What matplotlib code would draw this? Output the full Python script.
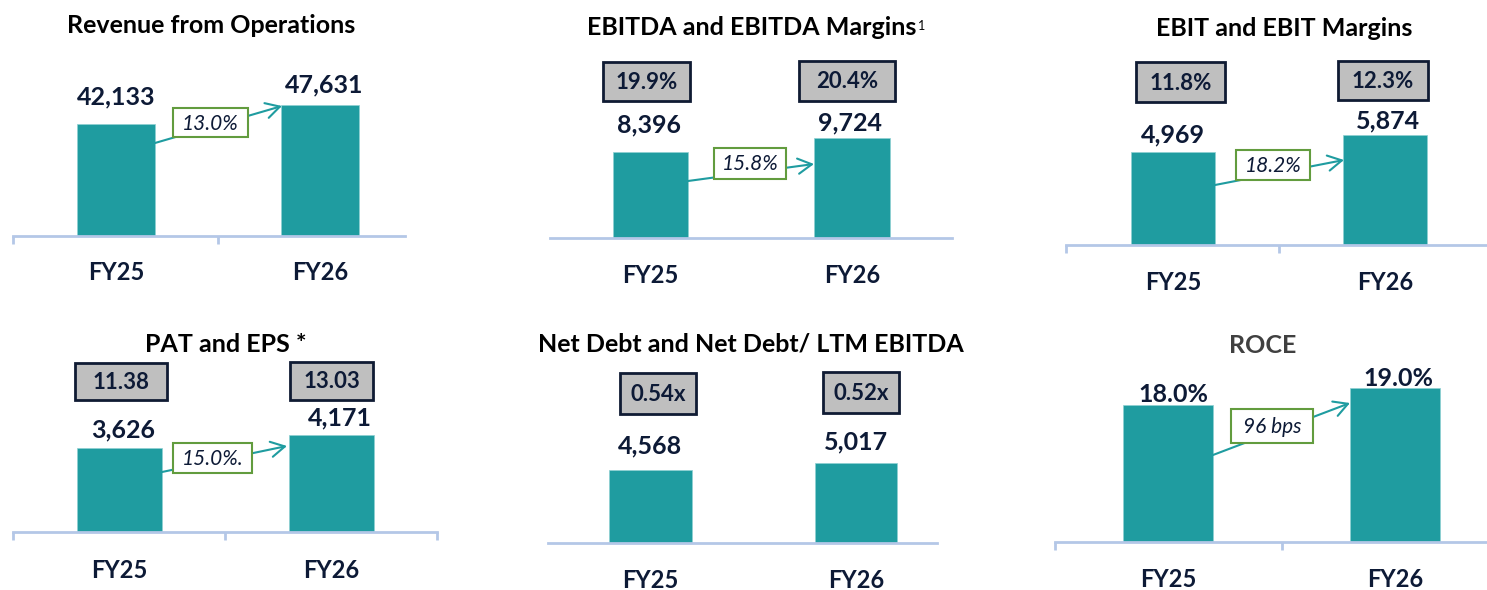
import matplotlib
matplotlib.use("Agg")
import matplotlib.pyplot as plt
from matplotlib.patches import Rectangle

W, H = 1487, 590
plt.rcParams['font.family'] = ['Lato', 'DejaVu Sans']

# data
years = ['FY25', 'FY26']
revenue = [42133, 47631]
ebitda = [8396, 9724]
ebit = [4969, 5874]
pat = [3626, 4171]
net_debt = [4568, 5017]
roce = [18.0, 19.0]
ebitda_margin = ['19.9%', '20.4%']
ebit_margin = ['11.8%', '12.3%']
eps = ['11.38', '13.03']
nd_ebitda = ['0.54x', '0.52x']

TEAL = '#1f9ca0'
NAVY = '#0d1a36'
AXIS = '#b4c7e7'
GREEN = '#629c3e'
GRAY = '#bfbfbf'

# layout of each panel, in pixels of the slide
panels = [
    dict(values=revenue, labels=[f'{v:,}' for v in revenue], title='Revenue from Operations',
         tx=211, ty=33, x0=13, x1=405, c=(116, 320), bw=78, yb=236, yt=0,
         scale=0.003456, ymin=9700, ticks=(13, 218), loff=[(0, 19), (4, 12)], fyb=280,
         boxes=None, growth='13.0%', gbox=(173, 108, 248, 137), arrow=((155, 143), (282, 106))),
    dict(values=ebitda, labels=[f'{v:,}' for v in ebitda], title='EBITDA and EBITDA Margins',
         sup='1', tx=752, ty=35, x0=550, x1=952, c=(650.5, 852), bw=75.5, yb=238, yt=0,
         scale=0.01026, ymin=0, ticks=(), loff=[(-2, 19), (-2, 8)], fyb=283,
         boxes=(ebitda_margin, [(603, 62, 690, 101), (799, 61, 895, 101)]),
         growth='15.8%', gbox=(714, 148, 786, 179), arrow=((688, 181), (814, 164))),
    dict(values=ebit, labels=[f'{v:,}' for v in ebit], title='EBIT and EBIT Margins',
         tx=1284, ty=36, x0=1066, x1=1487, c=(1173, 1385), bw=84, yb=245, yt=0,
         scale=0.01872, ymin=0, ticks=(1066, 1279), loff=[(0, 10), (3, 7)], fyb=290,
         boxes=(ebit_margin, [(1136, 62, 1225, 102), (1338, 61, 1428, 100)]),
         growth='18.2%', gbox=(1236, 150, 1310, 180), arrow=((1215, 185), (1344, 160))),
    dict(values=pat, labels=[f'{v:,}' for v in pat], title='PAT and EPS *',
         tx=226, ty=352, x0=13, x1=437, c=(119.5, 331), bw=85, yb=532, yt=300,
         scale=0.0232, ymin=0, ticks=(13, 225, 437), loff=[(4, 10), (9, 10)], fyb=578,
         boxes=(eps, [(75, 363, 167, 400), (290, 362, 373, 400)]),
         growth='15.0%.', gbox=(173, 443, 252, 473), arrow=((162, 472), (287, 446))),
    dict(values=net_debt, labels=[f'{v:,}' for v in net_debt], title='Net Debt and Net Debt/ LTM EBITDA',
         tx=751, ty=352, x0=548, x1=937, c=(650.5, 856), bw=82.5, yb=543, yt=300,
         scale=0.01597, ymin=0, ticks=(), loff=[(-1, 17), (0, 13)], fyb=588,
         boxes=(nd_ebitda, [(620, 373, 696, 414), (823, 372, 899, 413)]),
         growth=None),
    dict(values=roce, labels=[f'{v:.1f}%' for v in roce], title='ROCE', tcolor='#404040',
         tx=1263, ty=353, x0=1055, x1=1487, c=(1168, 1395), bw=90, yb=542, yt=300,
         scale=17.0, ymin=9.94, ticks=(1055, 1282), loff=[(5, 3), (3, 2)], fyb=587,
         boxes=None, growth='96 bps', gbox=(1231, 409, 1313, 443), arrow=((1213, 455), (1350, 403))),
]

fig = plt.figure(figsize=(W / 100, H / 100), dpi=100)

for p in panels:
    c0, c1 = p['c']
    s = c1 - c0
    ax = fig.add_axes([p['x0'] / W, (H - p['yb']) / H, (p['x1'] - p['x0']) / W, (p['yb'] - p['yt']) / H])
    ax.set_facecolor('none')
    ax.set_xlim((p['x0'] - c0) / s, (p['x1'] - c0) / s)
    ax.set_ylim(p['ymin'], p['ymin'] + (p['yb'] - p['yt']) / p['scale'])
    ax.bar([0, 1], [v - p['ymin'] for v in p['values']], bottom=p['ymin'],
           width=p['bw'] / s, color=TEAL, edgecolor='#8fd0d2', linewidth=0.5)
    for sp in ['top', 'left', 'right']:
        ax.spines[sp].set_visible(False)
    ax.spines['bottom'].set_color(AXIS)
    ax.spines['bottom'].set_linewidth(2.0)
    ax.set_yticks([])
    ax.set_xticks([(t - c0) / s for t in p['ticks']])
    ax.set_xticklabels([])
    ax.tick_params(axis='x', direction='out', length=6, width=2.0, color=AXIS)

    for i, (v, lab) in enumerate(zip(p['values'], p['labels'])):
        dx, dy = p['loff'][i]
        ax.annotate(lab, (i, v), xytext=(dx, dy), textcoords='offset pixels',
                    ha='center', va='baseline', fontsize=18, fontweight='bold',
                    color=NAVY, annotation_clip=False)
        ax.annotate(years[i], (i, p['ymin']), xytext=(0, -(p['fyb'] - p['yb'])),
                    textcoords='offset pixels', ha='center', va='baseline',
                    fontsize=17, fontweight='bold', color=NAVY, annotation_clip=False)

# overlay in slide pixels for titles, boxes and growth arrows
ov = fig.add_axes([0, 0, 1, 1])
ov.set_xlim(0, W)
ov.set_ylim(H, 0)
ov.axis('off')
ov.set_facecolor('none')

renderer = fig.canvas.get_renderer()
for p in panels:
    t = ov.text(p['tx'], p['ty'], p['title'], ha='center', va='baseline', fontsize=18,
                fontweight='bold', color=p.get('tcolor', '#000000'))
    if p.get('sup'):
        bb = t.get_window_extent(renderer)
        ov.text(bb.x1 + 1, p['ty'] - 15, p['sup'], ha='left', va='top',
                fontsize=9, color='#000000')

    if p['boxes']:
        texts, rects = p['boxes']
        for txt, (bx0, by0, bx1, by1) in zip(texts, rects):
            ov.add_patch(Rectangle((bx0, by0), bx1 - bx0, by1 - by0, facecolor=GRAY,
                                   edgecolor='#0f1b33', linewidth=2.0))
            ov.text((bx0 + bx1) / 2, (by0 + by1) / 2 + 1, txt, ha='center', va='center',
                    fontsize=16, fontweight='bold', color=NAVY)

    if p['growth']:
        (sx, sy), (ex, ey) = p['arrow']
        ov.annotate('', xy=(ex, ey), xytext=(sx, sy),
                    arrowprops=dict(arrowstyle='->,head_length=1.0,head_width=0.55',
                                    color=TEAL, lw=1.5, shrinkA=0, shrinkB=0))
        gx0, gy0, gx1, gy1 = p['gbox']
        ov.add_patch(Rectangle((gx0, gy0), gx1 - gx0, gy1 - gy0, facecolor='white',
                               edgecolor=GREEN, linewidth=1.5, zorder=3))
        ov.text((gx0 + gx1) / 2, (gy0 + gy1) / 2 + 1, p['growth'], ha='center', va='center',
                fontsize=15, fontstyle='italic', color=NAVY, zorder=4)

fig.savefig('out.png', dpi=100)
